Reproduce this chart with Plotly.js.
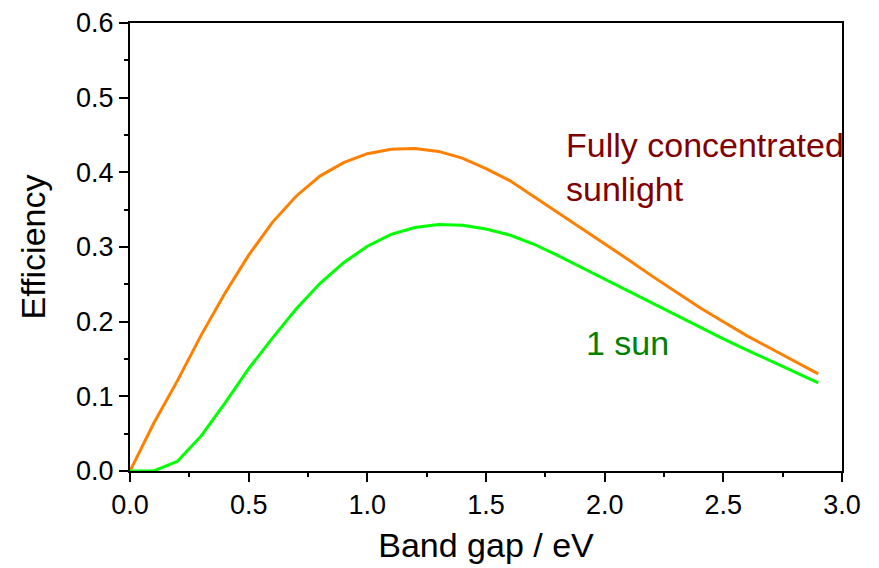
<!DOCTYPE html>
<html>
<head>
<meta charset="utf-8">
<script src="https://cdn.plot.ly/plotly-3.0.1.min.js"></script>
<style>
  html, body { margin: 0; padding: 0; background: #fff; }
  #chart { width: 879px; height: 568px; }
</style>
</head>
<body>
<div id="chart"></div>
<script>
// Band gap (eV) sampled every 0.1 eV
const bandGap = [0.0, 0.1, 0.2, 0.3, 0.4, 0.5, 0.6, 0.7, 0.8, 0.9,
                 1.0, 1.1, 1.2, 1.3, 1.4, 1.5, 1.6, 1.7, 1.8, 1.9,
                 2.0, 2.1, 2.2, 2.3, 2.4, 2.5, 2.6, 2.7, 2.8, 2.9];

// Limiting efficiency under fully concentrated sunlight
const effConcentrated = [0.000, 0.064, 0.121, 0.182, 0.238, 0.289, 0.333, 0.368, 0.395, 0.413,
                         0.425, 0.431, 0.432, 0.428, 0.419, 0.405, 0.389, 0.368, 0.347, 0.325,
                         0.304, 0.283, 0.261, 0.240, 0.219, 0.200, 0.181, 0.164, 0.147, 0.130];

// Limiting efficiency under 1 sun
const effOneSun = [0.000, 0.000, 0.013, 0.047, 0.091, 0.137, 0.178, 0.217, 0.251, 0.279,
                   0.301, 0.317, 0.326, 0.330, 0.329, 0.324, 0.316, 0.304, 0.289, 0.273,
                   0.257, 0.241, 0.224, 0.208, 0.192, 0.177, 0.162, 0.147, 0.132, 0.118];

const xTicks = [0.0, 0.5, 1.0, 1.5, 2.0, 2.5, 3.0];
const yTicks = [0.0, 0.1, 0.2, 0.3, 0.4, 0.5, 0.6];

const FONT = 'Liberation Sans, Arial, sans-serif';

const traces = [
  {
    x: bandGap, y: effConcentrated, type: 'scatter', mode: 'lines',
    line: { color: '#ff8000', width: 3 }, name: 'Fully concentrated sunlight',
    hoverinfo: 'x+y'
  },
  {
    x: bandGap, y: effOneSun, type: 'scatter', mode: 'lines',
    line: { color: '#00ff00', width: 3 }, name: '1 sun',
    hoverinfo: 'x+y'
  }
];

const axisCommon = {
  showgrid: false, zeroline: false,
  showline: true, linecolor: '#000', linewidth: 2, mirror: true,
  ticks: 'outside', ticklen: 9, tickwidth: 2, tickcolor: '#000',
  tickfont: { family: FONT, size: 27, color: '#000' }
};

const layout = {
  width: 879, height: 568,
  margin: { l: 130, r: 37, t: 23, b: 97 },
  paper_bgcolor: '#fff', plot_bgcolor: '#fff',
  showlegend: false,
  font: { family: FONT, color: '#000' },
  xaxis: Object.assign({}, axisCommon, {
    range: [0, 3.0],
    tickmode: 'array', tickvals: xTicks, ticktext: xTicks.map(v => v.toFixed(1)),
    minor: { dtick: 0.25, tick0: 0, ticks: 'outside', ticklen: 4, tickwidth: 2, tickcolor: '#000' },
    title: { text: 'Band gap / eV', font: { family: FONT, size: 34, color: '#000' }, standoff: 14 }
  }),
  yaxis: Object.assign({}, axisCommon, {
    range: [0, 0.6],
    tickmode: 'array', tickvals: yTicks, ticktext: yTicks.map(v => v.toFixed(1)),
    minor: { dtick: 0.05, tick0: 0, ticks: 'outside', ticklen: 4, tickwidth: 2, tickcolor: '#000' },
    title: { text: 'Efficiency', font: { family: FONT, size: 34, color: '#000' }, standoff: 20 }
  }),
  annotations: [
    {
      x: 1.83, y: 0.407, xref: 'x', yref: 'y',
      text: 'Fully concentrated<br>sunlight', showarrow: false,
      xanchor: 'left', yanchor: 'middle', align: 'left',
      font: { family: FONT, size: 34, color: '#800000' }
    },
    {
      x: 1.915, y: 0.172, xref: 'x', yref: 'y',
      text: '1 sun', showarrow: false,
      xanchor: 'left', yanchor: 'middle', align: 'left',
      font: { family: FONT, size: 34, color: '#008000' }
    }
  ]
};

Plotly.newPlot('chart', traces, layout, { displayModeBar: false, staticPlot: true });
</script>
</body>
</html>
